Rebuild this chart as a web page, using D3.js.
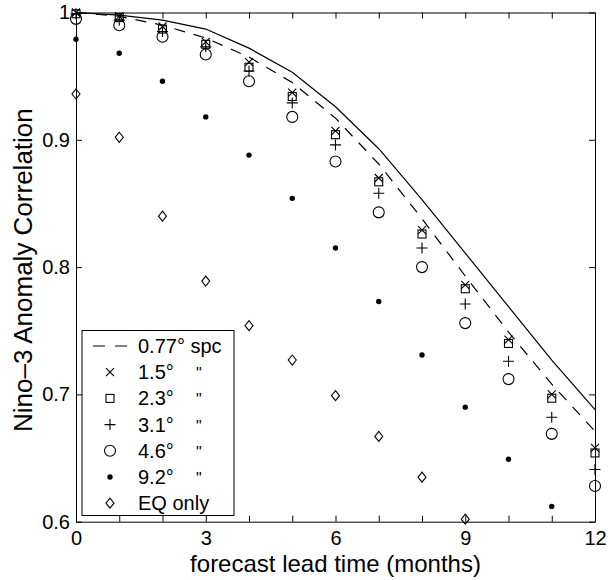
<!DOCTYPE html>
<html>
<head>
<meta charset="utf-8">
<script src="https://cdn.jsdelivr.net/npm/d3@7"></script>
<style>
  html, body { margin: 0; padding: 0; background: #fff; }
  svg { display: block; }
  text { font-family: "Liberation Sans", Arial, Helvetica, sans-serif; fill: #000; }
</style>
</head>
<body>
<svg id="chart" width="608" height="580"></svg>
<script>
// ---- data ----
const months = [0,1,2,3,4,5,6,7,8,9,10,11,12];
const xTickValues = [0,1,2,3,4,5,6,7,8,9,10,11,12];
const xTickLabels = [0,3,6,9,12];
const yTickValues = [0.6,0.7,0.8,0.9,1.0];
const yTickLabels = ["0.6","0.7","0.8","0.9","1"];

const solidRef   = [1.000,0.998,0.994,0.987,0.972,0.953,0.926,0.893,0.853,0.811,0.769,0.727,0.688];
const spc077     = [1.000,0.997,0.990,0.980,0.965,0.945,0.917,0.881,0.838,0.793,0.749,0.708,0.671];
const res15      = [1.000,0.997,0.989,0.977,0.961,0.937,0.907,0.870,0.829,0.786,0.743,0.700,0.658];
const res23      = [0.999,0.996,0.987,0.975,0.957,0.934,0.904,0.867,0.826,0.783,0.740,0.697,0.654];
const res31      = [0.999,0.994,0.985,0.973,0.954,0.929,0.896,0.858,0.815,0.771,0.726,0.682,0.641];
const res46      = [0.995,0.990,0.981,0.967,0.946,0.918,0.883,0.843,0.800,0.756,0.712,0.669,0.628];
const res92      = [0.979,0.968,0.946,0.918,0.888,0.854,0.815,0.773,0.731,0.690,0.649,0.612];
const eqOnly     = [0.936,0.902,0.840,0.789,0.754,0.727,0.699,0.667,0.635,0.602];

const legendLabels = ["0.77° spc","1.5°","2.3°","3.1°","4.6°","9.2°","EQ only"];
const legendDitto  = [false,true,true,true,true,true,false];

// ---- layout ----
const svg = d3.select("#chart");
const L = 76, R = 595, T = 12.5, B = 521.7;
const x = d3.scaleLinear().domain([0,12]).range([L,R]);
const y = d3.scaleLinear().domain([0.6,1.0]).range([B,T]);

const FONT_TICK = 20, FONT_LABEL = 24;

// axes
const ax = svg.append("g").attr("class","axes");
const styleAxis = g => {
  g.select(".domain").attr("stroke","#000").attr("stroke-width",1);
  g.selectAll(".tick line").attr("stroke","#000").attr("stroke-width",1);
  g.selectAll(".tick text").attr("font-size",FONT_TICK).attr("font-family","Liberation Sans, Arial, sans-serif").attr("fill","#000");
};
ax.append("g").attr("transform",`translate(0,${B})`)
  .call(d3.axisBottom(x).tickValues(xTickValues).tickSizeInner(-6).tickSizeOuter(0).tickPadding(9)
    .tickFormat(d => xTickLabels.includes(d) ? String(d) : ""))
  .call(styleAxis);
ax.append("g").attr("transform",`translate(0,${T})`)
  .call(d3.axisTop(x).tickValues(xTickValues).tickSizeInner(-6).tickSizeOuter(0).tickFormat(""))
  .call(styleAxis);
ax.append("g").attr("transform",`translate(${L},0)`)
  .call(d3.axisLeft(y).tickValues(yTickValues).tickSizeInner(-6).tickSizeOuter(0).tickPadding(6)
    .tickFormat((d,i) => yTickLabels[i]))
  .call(styleAxis);
ax.append("g").attr("transform",`translate(${R},0)`)
  .call(d3.axisRight(y).tickValues(yTickValues).tickSizeInner(-6).tickSizeOuter(0).tickFormat(""))
  .call(styleAxis);

// axis titles
svg.append("text").attr("x",(L+R)/2).attr("y",572).attr("text-anchor","middle")
  .attr("font-size",FONT_LABEL).text("forecast lead time (months)");
svg.append("text").attr("transform",`translate(32,${(T+B)/2 + 3}) rotate(-90)`).attr("text-anchor","middle")
  .attr("font-size",26).text("Nino\u20133 Anomaly Correlation");

// lines
const line = d3.line().x((d,i)=>x(months[i])).y(d=>y(d));
const plot = svg.append("g");
plot.append("path").datum(solidRef).attr("d",line).attr("fill","none").attr("stroke","#000").attr("stroke-width",1.2);
plot.append("path").datum(spc077).attr("d",line).attr("fill","none").attr("stroke","#000").attr("stroke-width",1.2)
  .attr("stroke-dasharray","11,9");

// marker drawers
const markers = {
  cross: (g,cx,cy) => g.append("path").attr("d",`M${cx-4},${cy-4}L${cx+4},${cy+4}M${cx-4},${cy+4}L${cx+4},${cy-4}`)
        .attr("stroke","#000").attr("stroke-width",1.1).attr("fill","none"),
  square: (g,cx,cy) => g.append("rect").attr("x",cx-4).attr("y",cy-4).attr("width",8).attr("height",8)
        .attr("stroke","#000").attr("stroke-width",1.1).attr("fill","none"),
  plus: (g,cx,cy) => g.append("path").attr("d",`M${cx-5.5},${cy}L${cx+5.5},${cy}M${cx},${cy-5.5}L${cx},${cy+5.5}`)
        .attr("stroke","#000").attr("stroke-width",1.1).attr("fill","none"),
  circle: (g,cx,cy) => g.append("circle").attr("cx",cx).attr("cy",cy).attr("r",5.5)
        .attr("stroke","#000").attr("stroke-width",1.1).attr("fill","none"),
  dot: (g,cx,cy) => g.append("circle").attr("cx",cx).attr("cy",cy).attr("r",2.7).attr("fill","#000"),
  diamond: (g,cx,cy) => g.append("path").attr("d",`M${cx},${cy-5}L${cx+4},${cy}L${cx},${cy+5}L${cx-4},${cy}Z`)
        .attr("stroke","#000").attr("stroke-width",1.1).attr("fill","none")
};

const seriesList = [
  {vals: res15, m: "cross"},
  {vals: res23, m: "square"},
  {vals: res31, m: "plus"},
  {vals: res46, m: "circle"},
  {vals: res92, m: "dot"},
  {vals: eqOnly, m: "diamond"}
];
seriesList.forEach(s => {
  const g = plot.append("g");
  s.vals.forEach((v,i) => markers[s.m](g, x(months[i]), y(v)));
});

// legend
const lg = svg.append("g");
lg.append("rect").attr("x",82).attr("y",330.5).attr("width",152).attr("height",185)
  .attr("fill","#fff").attr("stroke","#000").attr("stroke-width",1);
const rowY0 = 346, rowDy = 26.2;
const legendMarkers = [null,"cross","square","plus","circle","dot","diamond"];
legendLabels.forEach((lab,i) => {
  const cy = rowY0 + i*rowDy;
  if (i === 0) {
    lg.append("line").attr("x1",93).attr("x2",128).attr("y1",cy).attr("y2",cy)
      .attr("stroke","#000").attr("stroke-width",1.2).attr("stroke-dasharray","12,10");
  } else {
    markers[legendMarkers[i]](lg,110,cy);
  }
  lg.append("text").attr("x",138).attr("y",cy+7).attr("font-size",20).text(lab);
  if (legendDitto[i]) {
    lg.append("text").attr("x",196).attr("y",cy+7).attr("font-size",16).text("\"");
  }
});
</script>
</body>
</html>
